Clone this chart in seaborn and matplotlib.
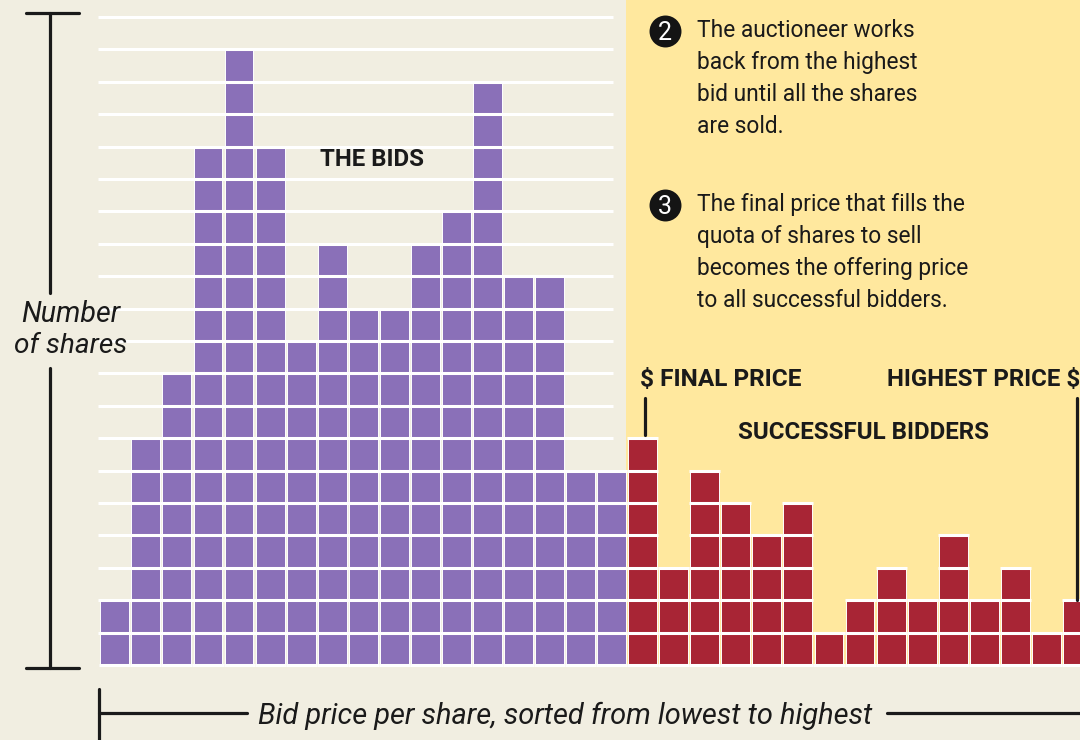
import matplotlib
matplotlib.use("Agg")
import matplotlib.pyplot as plt
import numpy as np
import pandas as pd
import seaborn as sns

purple_heights = [2, 7, 9, 16, 19, 16, 10, 13, 11, 11, 13, 14, 18, 12, 12, 6, 6]
red_heights = [7, 3, 6, 5, 4, 5, 1, 2, 3, 2, 4, 2, 3, 1, 2]
groups = ["The bids", "Successful bidders"]
note_2 = ["The auctioneer works", "back from the highest", "bid until all the shares", "are sold."]
note_3 = ["The final price that fills the", "quota of shares to sell", "becomes the offering price", "to all successful bidders."]

BEIGE, YELLOW, PURPLE, RED, INK = "#F1EEE1", "#FFE89E", "#8A70B8", "#A82535", "#1A1A1A"
W, H = 1080, 740
PITCH_X, PITCH_Y = 31.05, 32.4
X0, Y0 = 100.3, 665.0

heights = purple_heights + red_heights
df = pd.DataFrame({
    "bid": np.arange(len(heights)),
    "shares": heights,
    "group": [groups[0]] * len(purple_heights) + [groups[1]] * len(red_heights),
})

sns.set_theme(style="white")
plt.rcParams["font.family"] = ["Roboto", "DejaVu Sans"]
fig = plt.figure(figsize=(W / 100, H / 100), dpi=100, facecolor=BEIGE)
ax = fig.add_axes([0, 0, 1, 1], facecolor=BEIGE)

xlim = (-(X0 + PITCH_X / 2 - 1) / PITCH_X, (W - X0 - PITCH_X / 2 + 1) / PITCH_X)
ylim = (-(H - Y0) / PITCH_Y, Y0 / PITCH_Y)
ax.set_xlim(xlim)
ax.set_ylim(ylim)

n_p = len(purple_heights)
ax.axvspan(n_p - 0.54, xlim[1], ymin=(H - Y0) / H, ymax=1, color=YELLOW, lw=0, zorder=0)

levels = np.arange(1, 21)
ax.hlines(levels, -0.53, n_p - 0.97, color="white", lw=2.2, zorder=1)

sns.barplot(data=df, x="bid", y="shares", hue="group", dodge=False, width=0.93, saturation=1,
            palette={groups[0]: PURPLE, groups[1]: RED}, edgecolor="white", linewidth=0.7,
            legend=False, ax=ax, zorder=2)
ax.set_xlim(xlim)
ax.set_ylim(ylim)

for i, h in enumerate(heights):
    ax.hlines(np.arange(0, h + 1), i - 0.5, i + 0.5, color="white", lw=2.2, zorder=3)
ax.set_axis_off()


def px(x, y):
    return x / W, 1 - y / H


def seg(x1, y1, x2, y2, lw=2.3):
    (a, b), (c, d) = px(x1, y1), px(x2, y2)
    ax.plot([a, c], [b, d], color=INK, lw=lw, transform=fig.transFigure, clip_on=False, zorder=5,
            solid_capstyle="round")


def txt(x, y, s, size=17.5, **kw):
    a, b = px(x, y)
    kw.setdefault("va", "center_baseline")
    kw.setdefault("ha", "left")
    kw.setdefault("color", INK)
    fig.text(a, b, s, fontsize=size, **kw)


seg(50, 13, 50, 293)
seg(50, 368, 50, 668)
seg(26, 13, 79, 13)
seg(26, 668, 79, 668)
seg(98.5, 689, 98.5, 740)
seg(98.5, 713, 247, 713)
seg(887, 713, 1080, 713)
seg(645, 398, 645, 435)
seg(1077, 398, 1077, 600)

txt(71, 311, "Number", ha="center", style="italic", size=20.6)
txt(71, 343, "of shares", ha="center", style="italic", size=20.2)
txt(372, 157.5, "THE BIDS", ha="center", weight="bold", size=17.3)
txt(640, 377.5, "$ FINAL PRICE", weight="bold", size=17.6)
txt(1080, 377.5, "HIGHEST PRICE $", ha="right", weight="bold", size=17.3)
txt(863, 430, "SUCCESSFUL BIDDERS", ha="center", weight="bold", size=17.4)
txt(565, 713, "Bid price per share, sorted from lowest to highest", ha="center", style="italic", size=20.9)

for (cx, cy, num, note, ty) in [(665, 31, "2", note_2, 28), (665, 205, "3", note_3, 202)]:
    a, b = px(cx, cy)
    ax.plot([a], [b], "o", ms=23, color="#141414", mec="none", transform=fig.transFigure, zorder=5)
    txt(cx, cy, num, ha="center", color="white", size=18, zorder=6)
    for k, line in enumerate(note):
        txt(697, ty + 32 * k, line, size=16.4)

fig.savefig("out.png", dpi=100, facecolor=BEIGE)
